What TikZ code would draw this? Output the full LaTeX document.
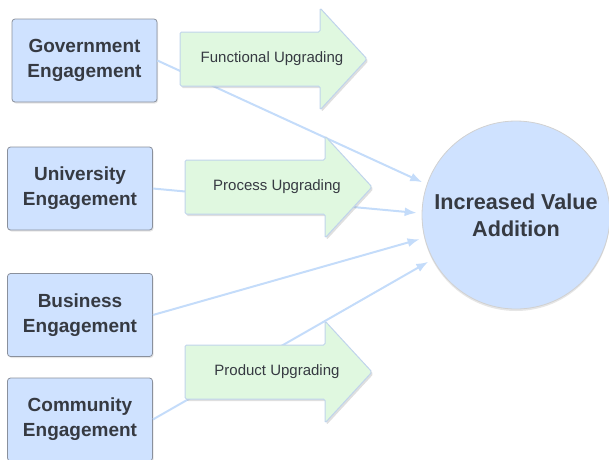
\documentclass[tikz,border=0pt]{standalone}
\usepackage{fontspec}
\setmainfont{Liberation Sans}
\usepackage{xcolor}
\usetikzlibrary{shapes,arrows,arrows.meta,positioning,calc,shadows}

\definecolor{boxblue}{RGB}{207,226,255}
\definecolor{boxline}{RGB}{138,144,156}
\definecolor{upgreen}{RGB}{224,248,224}
\definecolor{upline}{RGB}{192,212,236}
\definecolor{linkblue}{RGB}{196,220,250}
\definecolor{txtgray}{RGB}{54,58,66}

\tikzset{
  engbox/.style={draw=boxline, fill=boxblue, line width=0.8pt, rounded corners=3pt,
    minimum width=145pt, minimum height=83pt, align=center, text=txtgray,
    font=\fontsize{19}{25}\selectfont\bfseries,
    drop shadow={shadow xshift=1pt, shadow yshift=-1.5pt, opacity=0.2}},
  goalcircle/.style={circle, draw=black!18, fill=boxblue, line width=0.8pt,
    minimum size=188pt, align=center, text=txtgray,
    font=\fontsize{21.6}{27}\selectfont\bfseries,
    drop shadow={shadow xshift=0pt, shadow yshift=-2pt, opacity=0.2}},
  uparrow/.style={draw=upline, fill=upgreen, line width=1pt, rounded corners=1.5pt,
    drop shadow={shadow xshift=1.5pt, shadow yshift=-2pt, opacity=0.25}},
  uplabel/.style={font=\fontsize{15}{18}\selectfont, text=txtgray},
  link/.style={draw=linkblue, line width=2pt, -{Latex[length=12pt,width=9pt]}, shorten >=5pt}
}

\begin{document}
\begin{tikzpicture}[x=1pt,y=-1pt]
            % fix the page
            \useasboundingbox (0,0) rectangle (609,459);
            % draw the engagement boxes
            \node[engbox] (gov) at (84.5,60.5) {Government\\Engagement};
            \node[engbox] (uni) at (80,188.5) {University\\Engagement};
            \node[engbox] (bus) at (80,315) {Business\\Engagement};
            \node[engbox] (com) at (80,419.5) {Community\\Engagement};
            % draw the goal
            \node[goalcircle] (iva) at (516,215) {Increased Value\\Addition};
            % draw the links
            \draw[link] (gov.east) -- (iva.161);
            \draw[link] (uni.east) -- (iva.179);
            \draw[link] (bus.east) -- (iva.194);
            \draw[link] (com.east) -- (iva.208);
            % draw the upgrading arrows
            \foreach \nm/\lx/\cy/\txt in {fu/180/59/Functional Upgrading,pu/185/187/Process Upgrading,du/185/372/Product Upgrading}
            {
            \draw[uparrow] (\lx,\cy-27) -- (\lx+140,\cy-27) -- (\lx+140,\cy-51) -- (\lx+187,\cy)
                -- (\lx+140,\cy+51) -- (\lx+140,\cy+27) -- (\lx,\cy+27) -- cycle;
            \node[uplabel] (\nm) at (\lx+92,\cy) {\txt};
            }
        \end{tikzpicture}
\end{document}
